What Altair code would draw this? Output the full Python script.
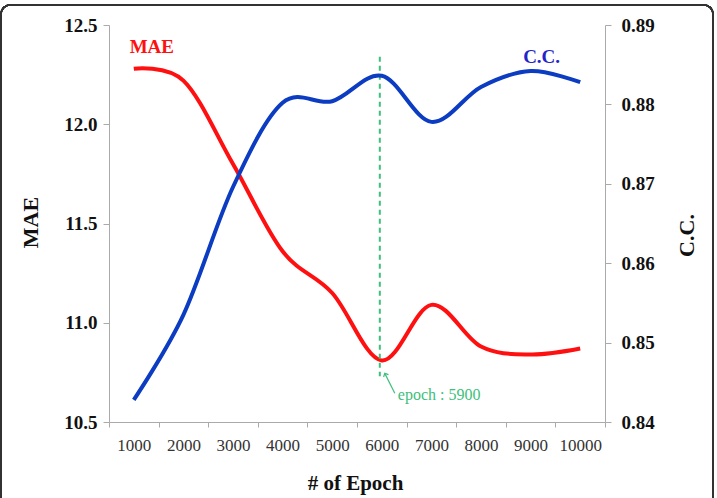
import altair as alt
import pandas as pd

epochs = ["1000", "2000", "3000", "4000", "5000", "6000", "7000", "8000", "9000", "10000"]
mae = [12.28, 12.22, 11.80, 11.36, 11.15, 10.81, 11.09, 10.88, 10.84, 10.87]
cc = [0.8428, 0.8535, 0.8696, 0.8802, 0.8804, 0.8836, 0.8778, 0.8822, 0.8842, 0.8828]

best_epoch = "6000"
best_label = "epoch : 5900"
rule_top, rule_bottom = 12.34, 10.73
arrow_top, arrow_bottom = 10.745, 10.645
label_y = 10.636

mae_ticks = [10.5, 11.0, 11.5, 12.0, 12.5]
cc_ticks = [0.84, 0.85, 0.86, 0.87, 0.88, 0.89]

FONT = "Liberation Serif"
RED = "#ff1010"
BLUE = "#0b3cc1"
GREEN = "#3cc07a"

df = pd.DataFrame({"epoch": epochs, "MAE": mae, "CC": cc})

xenc = alt.X(
    "epoch:N",
    sort=epochs,
    scale=alt.Scale(domain=epochs, paddingInner=0, paddingOuter=0),
    axis=alt.Axis(
        title="# of Epoch", labelAngle=0, labelFont=FONT, labelFontSize=17,
        labelColor="#333333", labelPadding=10, tickBand="extent", tickSize=5,
        domainColor="#aaaaaa", tickColor="#aaaaaa", titleFont=FONT,
        titleFontSize=21, titleFontWeight="bold", titleColor="#111111",
        titleX=246, titleY=61, titleAlign="center", titleBaseline="middle",
    ),
)
xs = alt.X("epoch:N", sort=epochs, title="# of Epoch")

mae_scale = alt.Scale(domain=[10.5, 12.5], nice=False, zero=False)
cc_scale = alt.Scale(domain=[0.84, 0.89], nice=False, zero=False)

mae_axis = alt.Axis(
    values=mae_ticks, format=".1f", title="MAE", orient="left",
    labelFont=FONT, labelFontSize=19, labelFontWeight="bold", labelColor="#111111",
    labelPadding=6, tickSize=6, domainColor="#aaaaaa", tickColor="#aaaaaa",
    titleFont=FONT, titleFontSize=22, titleFontWeight="bold", titleColor="#111111",
    titleAngle=270, titleX=-79, titleY=197, titleAlign="center", titleBaseline="middle",
    grid=False,
)
cc_axis = alt.Axis(
    values=cc_ticks, format=".2f", title="C.C.", orient="right",
    labelFont=FONT, labelFontSize=19, labelFontWeight="bold", labelColor="#111111",
    labelPadding=10, tickSize=6, domainColor="#aaaaaa", tickColor="#aaaaaa",
    titleFont=FONT, titleFontSize=22, titleFontWeight="bold", titleColor="#111111",
    titleAngle=270, titleX=81, titleY=210, titleAlign="center", titleBaseline="middle",
    grid=False,
)

def ym(field="MAE"):
    return alt.Y(f"{field}:Q", scale=mae_scale, axis=mae_axis, title="MAE")

def yc(field="CC"):
    return alt.Y(f"{field}:Q", scale=cc_scale, axis=cc_axis, title="C.C.")

mae_line = alt.Chart(df).mark_line(color=RED, strokeWidth=4, interpolate="cardinal").encode(
    x=xenc, y=ym(),
)

mae_lab = alt.Chart(pd.DataFrame({"epoch": [epochs[0]], "MAE": [12.39], "t": ["MAE"]})).mark_text(
    color=RED, font=FONT, fontSize=19, fontWeight="bold", dx=18, baseline="middle"
).encode(x=xs, y=ym(), text="t:N")

rule = alt.Chart(pd.DataFrame({"epoch": [best_epoch], "MAE": [rule_top], "b": [rule_bottom]})).mark_rule(
    color=GREEN, strokeWidth=2, strokeDash=[5, 4], xOffset=-2
).encode(x=xs, y=ym(), y2="b:Q")

arrow = alt.Chart(pd.DataFrame({"epoch": [best_epoch], "MAE": [arrow_top], "b": [arrow_bottom]})).mark_rule(
    color=GREEN, strokeWidth=1.2, xOffset=3, x2Offset=13
).encode(x=xs, x2="epoch:N", y=ym(), y2="b:Q")

head = alt.Chart(pd.DataFrame({"epoch": [best_epoch], "MAE": [arrow_top]})).mark_point(
    shape="M-1,1L0,0L1,1", filled=False, color=GREEN, strokeWidth=1.2, size=30,
    angle=333, xOffset=3, opacity=1
).encode(x=xs, y=ym())

ann = alt.Chart(pd.DataFrame({"epoch": [best_epoch], "MAE": [label_y], "t": [best_label]})).mark_text(
    color=GREEN, font=FONT, fontSize=16, align="left", baseline="middle", dx=16
).encode(x=xs, y=ym(), text="t:N")

frame = alt.Chart(df).mark_rect(
    fill=None, stroke="#333333", strokeWidth=1.5, cornerRadius=9
).encode(x=alt.value(-108), x2=alt.value(604), y=alt.value(-20), y2=alt.value(490))

left = alt.layer(frame, mae_line, mae_lab, rule, arrow, head, ann)

cc_line = alt.Chart(df).mark_line(color=BLUE, strokeWidth=4, interpolate="cardinal").encode(
    x=xs, y=yc(),
)

cc_lab = alt.Chart(pd.DataFrame({"epoch": ["9000"], "CC": [0.886], "t": ["C.C."]})).mark_text(
    color="#2424c8", font=FONT, fontSize=19, fontWeight="bold", dx=11, baseline="middle"
).encode(x=xs, y=yc(), text="t:N")

right = alt.layer(cc_line, cc_lab)

chart = alt.layer(left, right).resolve_scale(y="independent").properties(
    width=496, height=397,
    autosize=alt.AutoSizeParams(type="none"),
    padding={"left": 109, "top": 25, "right": 112, "bottom": 76},
    background="white",
).configure_view(stroke=None, strokeWidth=0).configure_axis(
    labelFont=FONT, titleFont=FONT
)

chart.save("out.html", embed_options={"renderer": "svg", "actions": False})
